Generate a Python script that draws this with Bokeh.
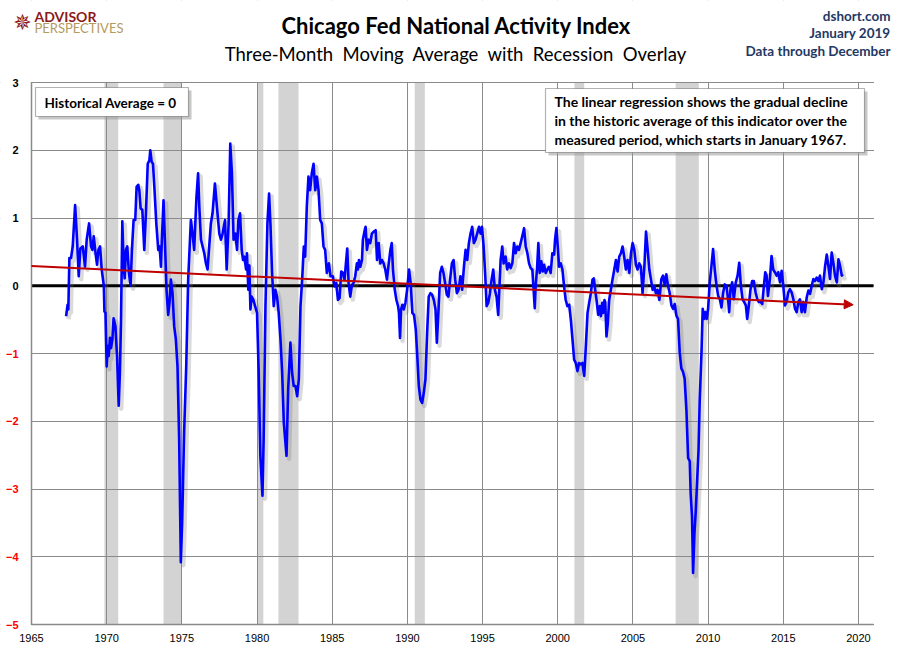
from bokeh.plotting import figure
from bokeh.models import (FixedTicker, Label, BoxAnnotation, Arrow, NormalHead, LinearAxis, Range1d)
from bokeh.embed import file_html
from bokeh.resources import INLINE

# ---------------- data ----------------
dates = [
    1967.30, 1967.40, 1967.45, 1967.52, 1967.63, 1967.74, 1967.90, 1968.03, 1968.14, 1968.25,
    1968.41, 1968.56, 1968.67, 1968.83, 1968.96, 1969.05, 1969.14, 1969.27, 1969.36, 1969.45,
    1969.56, 1969.67, 1969.81, 1969.85, 1969.92, 1970.00, 1970.07, 1970.13, 1970.22, 1970.29,
    1970.38, 1970.46, 1970.58, 1970.69, 1970.80, 1970.88, 1970.95, 1971.04, 1971.13, 1971.20,
    1971.28, 1971.37, 1971.48, 1971.59, 1971.68, 1971.79, 1971.90, 1971.99, 1972.10, 1972.17,
    1972.26, 1972.37, 1972.50, 1972.61, 1972.73, 1972.84, 1972.90, 1972.99, 1973.08, 1973.17,
    1973.30, 1973.43, 1973.52, 1973.61, 1973.67, 1973.78, 1973.87, 1973.98, 1974.09, 1974.18,
    1974.27, 1974.38, 1974.49, 1974.60, 1974.71, 1974.82, 1974.93, 1975.02, 1975.15, 1975.29,
    1975.42, 1975.60, 1975.71, 1975.82, 1975.97, 1976.08,
    1976.16, 1976.27, 1976.38, 1976.49, 1976.60, 1976.71, 1976.82, 1976.93, 1977.04, 1977.20,
    1977.33, 1977.49, 1977.60, 1977.71, 1977.87, 1977.98, 1978.11, 1978.22, 1978.33, 1978.44,
    1978.56, 1978.67, 1978.76, 1978.87, 1978.98, 1979.07, 1979.16, 1979.27, 1979.33, 1979.42,
    1979.49, 1979.56, 1979.64, 1979.76, 1979.87, 1980.00, 1980.11, 1980.22, 1980.36, 1980.44,
    1980.56, 1980.69, 1980.80, 1980.89, 1981.00, 1981.11, 1981.22, 1981.33, 1981.44, 1981.56,
    1981.67, 1981.78, 1981.96, 1982.07, 1982.22, 1982.33, 1982.44, 1982.56, 1982.67, 1982.78,
    1982.89, 1983.00, 1983.11, 1983.20, 1983.31, 1983.42, 1983.53, 1983.64, 1983.76, 1983.87,
    1983.98, 1984.09, 1984.20, 1984.31, 1984.42, 1984.53, 1984.64, 1984.78, 1984.89,
    1985.04, 1985.16, 1985.27, 1985.38, 1985.49, 1985.60, 1985.71, 1985.82, 1985.93, 1986.00,
    1986.09, 1986.20, 1986.31, 1986.42, 1986.53, 1986.64, 1986.71, 1986.78, 1986.87, 1986.98,
    1987.04, 1987.16, 1987.22, 1987.31, 1987.42, 1987.53, 1987.64, 1987.76, 1987.89, 1987.98,
    1988.09, 1988.20, 1988.31, 1988.42, 1988.53, 1988.64, 1988.76, 1988.87, 1988.96, 1989.04,
    1989.16, 1989.27, 1989.38, 1989.44, 1989.51, 1989.58, 1989.67, 1989.76, 1989.87, 1989.98,
    1990.11, 1990.22, 1990.33, 1990.44, 1990.56, 1990.67, 1990.76, 1990.87, 1990.98, 1991.09,
    1991.20, 1991.31, 1991.42, 1991.53, 1991.64, 1991.76, 1991.87, 1991.96, 1992.07, 1992.18,
    1992.29, 1992.40, 1992.51, 1992.62, 1992.73, 1992.84, 1992.96, 1993.07, 1993.18, 1993.29,
    1993.40, 1993.53, 1993.64, 1993.76, 1993.87, 1993.98, 1994.09, 1994.20, 1994.31, 1994.42,
    1994.53, 1994.64, 1994.76, 1994.87, 1994.96, 1995.07, 1995.18, 1995.27, 1995.38, 1995.49,
    1995.60, 1995.71, 1995.82, 1995.93, 1996.04,
    1996.20, 1996.31, 1996.40, 1996.53, 1996.64, 1996.76, 1996.87, 1996.98, 1997.09, 1997.20,
    1997.31, 1997.42, 1997.53, 1997.64, 1997.76, 1997.87, 1997.98, 1998.09, 1998.20, 1998.31,
    1998.38, 1998.47, 1998.53, 1998.62, 1998.71, 1998.80, 1998.91, 1999.00, 1999.09, 1999.20,
    1999.31, 1999.42, 1999.53, 1999.64, 1999.76, 1999.82, 1999.91, 2000.00, 2000.09, 2000.20,
    2000.31, 2000.42, 2000.53, 2000.64, 2000.76, 2000.87, 2000.98, 2001.09, 2001.20, 2001.31,
    2001.42, 2001.53, 2001.64, 2001.76, 2001.87, 2001.98, 2002.09, 2002.20, 2002.31, 2002.40,
    2002.49, 2002.58, 2002.69, 2002.80, 2002.87, 2002.96, 2003.02, 2003.11, 2003.16, 2003.24,
    2003.33, 2003.42, 2003.53, 2003.64, 2003.76, 2003.87, 2003.98, 2004.09, 2004.20, 2004.31,
    2004.42, 2004.53, 2004.64, 2004.76, 2004.87, 2004.98, 2005.09, 2005.20, 2005.31, 2005.42,
    2005.53, 2005.64, 2005.76, 2005.87, 2005.98, 2006.09, 2006.20, 2006.31, 2006.42, 2006.53,
    2006.64, 2006.76,
    2006.89, 2007.00, 2007.11, 2007.22, 2007.33, 2007.44, 2007.56, 2007.67, 2007.78, 2007.89,
    2008.00, 2008.11, 2008.22, 2008.33, 2008.44, 2008.56, 2008.67, 2008.78, 2008.84, 2008.93,
    2009.00, 2009.09, 2009.18, 2009.27, 2009.36, 2009.44, 2009.56, 2009.64, 2009.73, 2009.82,
    2009.91, 2010.00, 2010.11, 2010.22, 2010.33, 2010.44, 2010.56, 2010.67, 2010.78, 2010.89,
    2011.00, 2011.11, 2011.22, 2011.33, 2011.40, 2011.49, 2011.60, 2011.71, 2011.84, 2011.96,
    2012.07, 2012.18, 2012.29, 2012.40, 2012.51, 2012.60, 2012.71, 2012.82, 2012.93, 2013.04,
    2013.16, 2013.27, 2013.38, 2013.49, 2013.60, 2013.71, 2013.80, 2013.89, 2013.98, 2014.11,
    2014.22, 2014.33, 2014.44, 2014.56, 2014.67, 2014.78, 2014.89, 2015.00, 2015.11, 2015.22,
    2015.33, 2015.44, 2015.56, 2015.67, 2015.78, 2015.89, 2016.00, 2016.11, 2016.22, 2016.33,
    2016.44, 2016.56, 2016.67, 2016.78, 2016.89, 2017.00, 2017.11, 2017.22, 2017.33, 2017.44,
    2017.56, 2017.67, 2017.78, 2017.89, 2018.00, 2018.11, 2018.22, 2018.33, 2018.44, 2018.56,
    2018.67, 2018.78, 2018.89, 2018.96,
]

cfnai_ma3 = [
    -0.45, -0.28, -0.35, 0.41, 0.41, 0.58, 1.19, 0.68, 0.14, 0.55,
    0.58, 0.28, 0.68, 0.92, 0.58, 0.53, 0.73, 0.46, 0.31, 0.53,
    0.58, 0.24, 0.00, -0.38, -0.40, -1.19, -0.89, -1.04, -0.77, -0.92,
    -0.79, -0.48, -0.60, -1.04, -1.77, -1.28, -0.55, 0.95, 0.28, 0.11,
    0.53, 0.58, 0.19, 0.00, 0.53, 0.97, 0.97, 1.46, 1.49, 1.41,
    1.14, 1.12, 0.53, 1.07, 1.80, 1.85, 2.00, 1.83, 1.80, 1.46,
    0.92, 0.53, 0.58, 0.28, 0.68, 1.26, 0.68, -0.06, -0.43, -0.25,
    0.09, -0.11, -0.60, -0.79, -1.19, -2.26, -4.08, -3.49, -2.17, -1.19,
    0.09, 0.97, 0.77, 0.53, 1.31, 1.66,
    1.17, 0.68, 0.58, 0.48, 0.33, 0.24, 0.58, 0.92, 1.07, 1.51,
    1.17, 0.77, 0.68, 0.77, 0.97, 0.24, 0.92, 2.10, 1.66, 0.68,
    0.77, 0.53, 0.97, 1.07, 0.53, 0.38, 0.43, 0.24, 0.48, -0.06,
    0.30, -0.35, -0.16, -0.21, -0.30, -0.40, -1.28, -2.51, -3.10, -2.26,
    -0.30, 0.92, 1.36, 0.92, 0.19, -0.30, -0.06, -0.16, -0.40, -0.79,
    -1.28, -2.02, -2.51, -1.53, -0.84, -1.28, -1.48, -1.48, -1.63, -1.38,
    -0.30, 0.09, 0.58, 0.43, 1.17, 1.61, 1.41, 1.66, 1.80, 1.41,
    1.61, 1.41, 0.97, 0.92, 0.58, 0.53, 0.19, 0.33, 0.14,
    0.14, -0.01, 0.04, -0.21, -0.18, 0.21, 0.19, 0.09, 0.38, 0.55,
    0.04, -0.16, 0.01, 0.04, 0.14, 0.33, 0.24, 0.38, 0.28, 0.38,
    0.68, 0.82, 0.87, 0.53, 0.68, 0.63, 0.77, 0.80, 0.82, 0.38,
    0.63, 0.33, 0.38, 0.33, 0.24, 0.09, 0.33, 0.53, 0.63, 0.24,
    -0.06, -0.21, -0.30, -0.40, -0.77, -0.35, -0.28, -0.35, -0.25, -0.06,
    0.24, 0.04, -0.40, -0.43, -0.65, -1.09, -1.48, -1.68, -1.73, -1.58,
    -1.38, -0.70, -0.16, -0.11, -0.13, -0.21, -0.35, -0.84, -0.35, 0.19,
    0.28, 0.19, 0.04, -0.13, -0.16, 0.09, 0.33, 0.38, 0.09, -0.11,
    -0.06, 0.14, -0.06, 0.28, 0.53, 0.38, 0.63, 0.77, 0.87, 0.63,
    0.68, 0.77, 0.87, 0.77, 0.87, 0.58, 0.14, -0.30, -0.25, -0.11,
    0.09, 0.24, -0.06, -0.16, -0.43,
    0.38, 0.58, 0.33, 0.43, 0.24, 0.33, 0.26, 0.33, 0.63, 0.48,
    0.58, 0.53, 0.63, 0.73, 0.85, 0.58, 0.48, 0.33, 0.26, 0.24,
    -0.01, -0.33, -0.01, 0.24, 0.63, 0.19, 0.36, 0.21, 0.31, 0.19,
    0.24, 0.28, 0.19, 0.48, 0.46, 0.68, 0.85, 0.58, 0.28, 0.33,
    0.24, -0.01, -0.21, -0.30, -0.28, -0.50, -0.79, -1.09, -1.14, -1.26,
    -1.14, -1.16, -1.14, -1.33, -0.89, -0.40, -0.25, -0.11, 0.09, 0.11,
    -0.06, -0.21, -0.43, -0.30, -0.45, -0.25, -0.40, -0.21, -0.25, -0.75,
    -0.55, -0.21, -0.06, 0.09, 0.24, 0.38, 0.21, 0.43, 0.48, 0.58,
    0.43, 0.24, 0.38, 0.19, 0.48, 0.63, 0.53, 0.31, 0.24, 0.33,
    0.28, -0.11, 0.28, 0.80, 0.53, 0.24, 0.09, -0.06, -0.01, -0.11,
    -0.06, -0.21,
    0.10, 0.15, 0.02, 0.17, 0.00, -0.10, -0.29, -0.34, -0.27, -0.44,
    -0.49, -0.98, -1.22, -1.27, -1.37, -1.85, -2.54, -2.59, -3.07, -3.41,
    -4.24, -3.66, -3.32, -2.88, -2.44, -1.71, -0.98, -0.34, -0.49, -0.39,
    -0.49, -0.34, 0.05, 0.29, 0.54, 0.24, 0.00, -0.15, -0.20, -0.32,
    -0.10, 0.02, 0.00, -0.20, -0.39, -0.05, 0.05, -0.20, 0.05, 0.15,
    0.34, 0.00, -0.20, -0.24, -0.29, -0.49, -0.29, -0.05, 0.07, 0.07,
    -0.10, -0.20, -0.24, -0.24, -0.27, 0.00, 0.20, 0.15, -0.15, 0.10,
    0.44, 0.24, 0.20, 0.15, 0.20, 0.05, 0.22, 0.00, -0.29, -0.24,
    -0.10, -0.05, -0.10, -0.20, -0.34, -0.39, -0.24, -0.20, -0.39, -0.24,
    -0.39, -0.17, -0.07, -0.12, 0.00, 0.10, 0.07, 0.12, 0.07, 0.15,
    -0.05, 0.05, 0.29, 0.46, 0.29, 0.10, 0.49, 0.34, 0.15, 0.05,
    0.39, 0.29, 0.15, 0.17,
]

recession_start = [1969.85, 1973.78, 1980.00, 1981.42, 1990.49, 2001.11, 2007.84]
recession_end = [1970.77, 1975.00, 1980.42, 1982.76, 1991.16, 2001.76, 2009.38]

historical_average = 0.0
trend_x = [1965.0, 2019.65]
trend_y = [0.29, -0.28]

x_ticks = [1965, 1970, 1975, 1980, 1985, 1990, 1995, 2000, 2005, 2010, 2015, 2020]
y_ticks_pos = [0, 1, 2, 3]
y_ticks_neg = [-5, -4, -3, -2, -1]

title_text = "Chicago Fed National Activity Index"
subtitle_text = "Three-Month \u00a0Moving \u00a0Average \u00a0with \u00a0Recession \u00a0Overlay"
source_lines = ["dshort.com", "January 2019", "Data through December"]
note_left = "Historical Average = 0"
note_right = ["The linear regression shows the gradual decline",
              "in the historic average of this indicator over the",
              "measured period, which starts in January 1967."]

# ---------------- layout ----------------
X0, X1, Y0, Y1 = 1965, 2021, -5, 3     # visible plot area in data units
W, H = 894, 645                         # canvas
PL, PT, PR, PB = 31, 82, 873, 624       # plot area on the canvas (px)
PPX = (PR - PL) / (X1 - X0)
PPY = (PB - PT) / (Y1 - Y0)


def px_x(px):
    return X0 + (px - PL) / PPX


def px_y(py):
    return Y1 - (py - PT) / PPY


# the frame covers the whole canvas; axes are pinned to the plot-area edges
xr0, xr1, yr0, yr1 = px_x(0), px_x(W), px_y(H), px_y(0)
p = figure(frame_width=W, frame_height=H, x_range=(xr0, xr1), y_range=(yr0, yr1),
           output_backend="svg", toolbar_location=None,
           min_border_left=0, min_border_right=0, min_border_top=0, min_border_bottom=0)
p.outline_line_color = None
p.background_fill_color = "white"
p.border_fill_color = "white"

GRID = "#8a8a8a"
p.xgrid.ticker = FixedTicker(ticks=x_ticks)
p.ygrid.ticker = FixedTicker(ticks=y_ticks_neg + y_ticks_pos)
p.xgrid.grid_line_color = GRID
p.ygrid.grid_line_color = GRID
p.xgrid.grid_line_width = 1
p.ygrid.grid_line_width = 1

xa = p.xaxis[0]
xa.fixed_location = Y0
xa.ticker = FixedTicker(ticks=x_ticks)
xa.bounds = (X0, X1)
xa.axis_line_color = GRID
xa.axis_line_width = 1.5
xa.major_tick_line_color = None
xa.minor_tick_line_color = None
xa.major_tick_out = 0
xa.major_label_standoff = 9
xa.major_label_text_font = "Liberation Sans"
xa.major_label_text_font_size = "11px"
xa.major_label_text_color = "black"

# y axes pinned at the left edge of the plot area: black for >= 0, red for < 0
ya = p.yaxis[0]
ya.fixed_location = X0
ya.bounds = (Y0, Y1)
ya.ticker = FixedTicker(ticks=y_ticks_pos)
ya.axis_line_color = GRID
ya.axis_line_width = 1.5
ya.major_tick_line_color = None
ya.minor_tick_line_color = None
ya.major_tick_out = 0
ya.major_label_standoff = 13
ya.major_label_text_font = "Liberation Sans"
ya.major_label_text_font_style = "bold"
ya.major_label_text_font_size = "11px"
ya.major_label_text_color = "black"

ya2 = LinearAxis(ticker=FixedTicker(ticks=y_ticks_neg), fixed_location=X0, axis_line_color=None,
                 major_tick_line_color=None, minor_tick_line_color=None, major_tick_out=0,
                 major_label_standoff=13, major_label_text_font="Liberation Sans",
                 major_label_text_font_style="bold", major_label_text_font_size="11px",
                 major_label_text_color="red")
p.add_layout(ya2, "left")

# recession shading (under the grid)
p.quad(left=recession_start, right=recession_end, top=Y1, bottom=Y0,
       fill_color="#d3d3d3", line_color=None, level="image")

# white masks hiding grid lines outside the plot area
p.quad(left=[xr0, xr0, px_x(PR + 0.5), xr0],
       right=[xr1, px_x(PL - 0.6), xr1, xr1],
       bottom=[px_y(PT - 0.6), yr0, yr0, yr0],
       top=[yr1, yr1, yr1, px_y(PB + 0.6)],
       fill_color="white", line_color=None)

# zero (historical average) line
p.segment(x0=X0, x1=X1, y0=historical_average, y1=historical_average,
          line_color="black", line_width=3)

# soft drop shadow of the index line: same data on ranges shifted by a few pixels
p.extra_x_ranges = {"shadow": Range1d(xr0 - 2.5 / PPX, xr1 - 2.5 / PPX)}
p.extra_y_ranges = {"shadow": Range1d(yr0 + 3 / PPY, yr1 + 3 / PPY)}
p.line(dates, cfnai_ma3, line_color="#7a7a7a", line_alpha=0.28, line_width=4.5,
       line_join="round", x_range_name="shadow", y_range_name="shadow")

# index line
p.line(dates, cfnai_ma3, line_color="#0000ff", line_width=2.6, line_join="round")

# regression trend arrow
p.add_layout(Arrow(x_start=trend_x[0], y_start=trend_y[0], x_end=trend_x[1], y_end=trend_y[1],
                   line_color="#c00000", line_width=2,
                   end=NormalHead(size=9, fill_color="#c00000", line_color="#c00000")))


# note boxes with shadow
def note_box(l, r, t, b):
    p.add_layout(BoxAnnotation(left=px_x(l + 3), right=px_x(r + 3), top=px_y(t + 3), bottom=px_y(b + 3),
                               fill_color="#9a9a9a", fill_alpha=0.55, line_color=None))
    p.add_layout(BoxAnnotation(left=px_x(l), right=px_x(r), top=px_y(t), bottom=px_y(b),
                               fill_color="white", fill_alpha=1, line_color="black", line_width=1.2))


def text_at(px, py, text, **kw):
    p.add_layout(Label(x=px_x(px), y=px_y(py), text=text, text_baseline="middle", **kw))


note_box(35, 188, 87, 116)
text_at(44, 102, note_left, text_font="Lato", text_font_style="bold",
        text_font_size="13.5px", text_color="black")

note_box(545, 864, 88, 152)
for i, line in enumerate(note_right):
    text_at(554, 101 + 19 * i, line, text_font="Lato", text_font_style="bold",
            text_font_size="14px", text_color="black")

# titles
text_at(456, 25, title_text, text_align="center", text_font="Lato",
        text_font_style="bold", text_font_size="22px", text_color="black")
text_at(455, 53, subtitle_text, text_align="center", text_font="Lato",
        text_font_size="18.5px", text_color="black")

# source lines
for i, line in enumerate(source_lines):
    text_at(890, 15 + 17.5 * i, line, text_align="right", text_font="Lato",
            text_font_style="bold", text_font_size="13.5px", text_color="#1f3864")

# logo
text_at(22, 22, "\u2735", text_align="center", text_font="DejaVu Sans",
        text_font_size="22px", text_color="#8b1a1a")
text_at(34, 16, "ADVISOR", text_font="Lato", text_font_style="bold",
        text_font_size="14px", text_color="#8b1a1a")
text_at(34, 27, "PERSPECTIVES", text_font="Lato", text_font_size="13px",
        text_color="#b39a5e")

open("out.html", "w").write(file_html(p, INLINE))
